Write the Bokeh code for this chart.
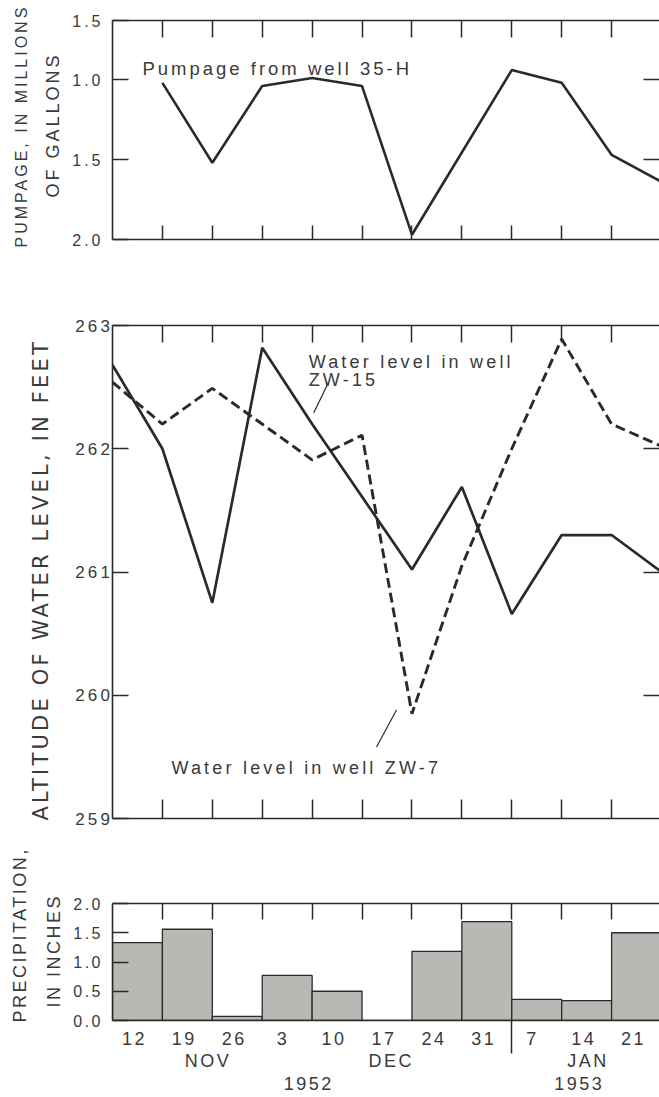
from bokeh.plotting import figure
from bokeh.models import Range1d, LinearAxis, FixedTicker, Label, InlineStyleSheet, Title
from bokeh.layouts import column
from bokeh.embed import file_html
from bokeh.resources import INLINE

# ---------------- data ----------------
week_labels = ["12", "19", "26", "3", "10", "17", "24", "31", "7", "14", "21"]
week_bounds = [1, 2, 3, 4, 5, 6, 7, 8, 9, 10]          # inner week boundaries (tick marks)
year_break = [8]                                        # boundary between 1952 and 1953

pump_tick_vals = [0.63, 1.0, 1.5, 2.0]
pump_tick_labels = ["1.5", "1.0", "1.5", "2.0"]
pump_x = [1, 2, 3, 4, 5, 6, 8, 9, 10, 11]
pump_mgal = [1.02, 1.52, 1.04, 0.99, 1.04, 1.97, 0.94, 1.02, 1.47, 1.64]

level_ticks = [259, 260, 261, 262, 263]
zw15_x = [0, 1, 2, 3, 4, 5, 6, 7, 8, 9, 10, 11]
zw15_ft = [262.68, 262.0, 260.75, 262.82, 262.2, 261.61, 261.02, 261.69, 260.66, 261.3, 261.3, 261.0]
zw7_x = [0, 1, 2, 4, 5, 6, 7, 8, 9, 10, 11]
zw7_ft = [262.54, 262.2, 262.49, 261.91, 262.11, 259.85, 261.05, 262.0, 262.89, 262.2, 262.02]

precip_ticks = [0.0, 0.5, 1.0, 1.5, 2.0]
precip_tick_labels = ["0.0", "0.5", "1.0", "1.5", "2.0"]
precip_in = [1.33, 1.56, 0.07, 0.77, 0.50, 0.0, 1.18, 1.69, 0.36, 0.34, 1.50]

month_labels = ["NOV", "DEC", "JAN"]
month_pos = [1.84, 5.51, 9.45]
year_labels = ["1952", "1953"]
year_pos = [3.83, 9.25]

# ---------------- style ----------------
INK = "#2a2a2a"
TXT = "#3a3a3a"
FONT = "Liberation Sans"
XMAX = 10.96
BAR = "#b6b9b4"


def spacing(px):
    return [InlineStyleSheet(css=":host { letter-spacing: %spx; }" % px)]


def base_fig(height, yr, top, bottom, ls):
    p = figure(width=659, height=height, x_range=Range1d(0, XMAX), y_range=yr,
               x_axis_location=None, y_axis_location=None,
               output_backend="svg", toolbar_location=None,
               min_border_left=112, min_border_right=0,
               min_border_top=top, min_border_bottom=bottom,
               outline_line_color=None, background_fill_color="white",
               border_fill_color="white")
    p.xgrid.visible = False
    p.ygrid.visible = False
    p.stylesheets = spacing(ls)
    return p


def add_axis(p, side, ticks, labels=None, tick_in=16, font_size="16px", standoff=5,
             line=True, minor=None, minor_out=0, tick_color=INK):
    ax = LinearAxis(ticker=FixedTicker(ticks=ticks, minor_ticks=minor or []))
    ax.major_tick_in = tick_in
    ax.major_tick_out = 0
    ax.major_tick_line_color = tick_color
    ax.major_tick_line_width = 1.5
    ax.minor_tick_in = 0
    ax.minor_tick_out = minor_out
    ax.minor_tick_line_color = INK if minor else None
    ax.minor_tick_line_width = 1.5
    ax.axis_line_color = INK if line else None
    ax.axis_line_width = 1.6
    if labels is not None:
        ax.major_label_overrides = {t: l for t, l in zip(ticks, labels)}
        ax.major_label_text_font = FONT
        ax.major_label_text_font_size = font_size
        ax.major_label_text_color = TXT
        ax.major_label_standoff = standoff
    else:
        ax.major_label_text_font_size = "1px"
        ax.major_label_text_color = None
        ax.major_label_standoff = 0
    p.add_layout(ax, side)
    return ax


def side_title(p, s, offset, standoff, font=FONT, size="18px"):
    p.add_layout(Title(text=s, align="left", offset=offset, standoff=standoff,
                       text_font=font, text_font_size=size, text_font_style="normal",
                       text_color=TXT), "left")


def text(p, x, y, s, size="18px"):
    p.add_layout(Label(x=x, y=y, text=s, text_align="left", text_baseline="alphabetic",
                       text_font=FONT, text_font_size=size, text_color=TXT))


# ---------------- pumpage panel ----------------
p1 = base_fig(282, Range1d(2.0, 0.6299), 20, 43, 3)
add_axis(p1, "left", pump_tick_vals, pump_tick_labels, tick_in=16, font_size="16px", standoff=18)
side_title(p1, "OF GALLONS", 42, 14)
side_title(p1, "PUMPAGE, IN MILLIONS", -8, 7, size="16px")
add_axis(p1, "right", pump_tick_vals[1:3], None, tick_in=16, line=False)
add_axis(p1, "above", week_bounds, None, tick_in=17)
add_axis(p1, "below", week_bounds, None, tick_in=14)
p1.line(pump_x, pump_mgal, line_width=2.6, line_color=INK)
text(p1, 0.60, 0.93, "Pumpage from well 35-H", size="18.5px")

# ---------------- water level panel ----------------
p2 = base_fig(546, Range1d(259, 263), 43, 10, 3.2)
add_axis(p2, "left", level_ticks, [str(v) for v in level_ticks], tick_in=16,
         font_size="17px", standoff=9)
side_title(p2, "ALTITUDE OF WATER LEVEL, IN FEET", -2, 40, font="DejaVu Sans", size="21px")
add_axis(p2, "right", level_ticks[1:4], None, tick_in=16, line=False)
add_axis(p2, "above", week_bounds, None, tick_in=17)
add_axis(p2, "below", week_bounds, None, tick_in=19)
p2.line(zw15_x, zw15_ft, line_width=2.7, line_color=INK)
p2.line(zw7_x, zw7_ft, line_width=2.9, line_color=INK, line_dash="10 5")
text(p2, 3.93, 262.70, "Water level in well")
text(p2, 3.93, 262.56, "ZW-15")
p2.segment(x0=[4.33], y0=[262.54], x1=[4.03], y1=[262.29], line_color=INK, line_width=1.2)
text(p2, 1.18, 259.41, "Water level in well ZW-7")
p2.segment(x0=[5.29], y0=[259.58], x1=[5.69], y1=[259.88], line_color=INK, line_width=1.2)

# ---------------- precipitation panel ----------------
p3 = base_fig(269, Range1d(0, 2.0), 75, 77, 2.5)
add_axis(p3, "left", precip_ticks, precip_tick_labels, tick_in=16, font_size="16px", standoff=17)
side_title(p3, "IN INCHES", 13, 14)
side_title(p3, "PRECIPITATION,", -2, 10)
add_axis(p3, "above", week_bounds, None, tick_in=16)
label_pos = [i + 0.39 for i in range(len(week_labels))]
add_axis(p3, "below", label_pos, week_labels, tick_in=0, font_size="18px", standoff=-22,
         minor=year_break, minor_out=33, tick_color=None)
add_axis(p3, "below", month_pos, month_labels, tick_in=0, font_size="18px", standoff=3,
         line=False, tick_color=None)
add_axis(p3, "below", year_pos, year_labels, tick_in=0, font_size="18px", standoff=3,
         line=False, tick_color=None)
p3.quad(left=list(range(len(precip_in))), right=[i + 1 for i in range(len(precip_in))],
        bottom=0, top=precip_in, fill_color=BAR, line_color=INK, line_width=1.3)

layout = column(p1, p2, p3)
open("out.html", "w").write(file_html(layout, INLINE))
